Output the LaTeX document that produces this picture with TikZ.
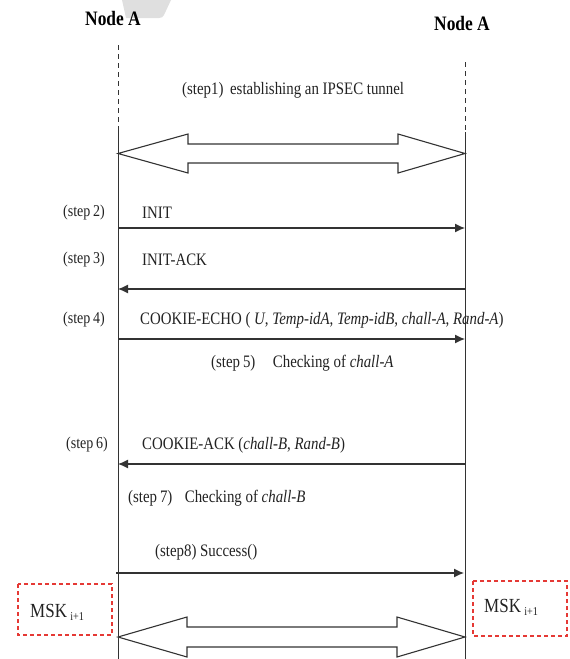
\documentclass[tikz,border=0pt]{standalone}
\usepackage{fontspec}
\setmainfont{Liberation Serif}[FakeStretch=0.85]
\usetikzlibrary{arrows.meta}
\definecolor{ln}{HTML}{333333}
\definecolor{tx}{HTML}{222222}
\definecolor{rd}{HTML}{E53935}
\begin{document}
\begin{tikzpicture}[x=1pt,y=-1pt,
  lifeline/.style={draw=ln,line width=1pt},
  dashline/.style={draw=ln,line width=1pt,dash pattern=on 5pt off 4pt},
  msg/.style={draw=ln,line width=1.2pt,-{Latex[length=10pt,width=9pt]}},
  fat/.style={draw=ln,line width=1.1pt,fill=white,line join=miter},
  lbl/.style={font=\fontsize{17.5}{19}\selectfont,text=tx,inner sep=0pt,anchor=west},
  stp/.style={font=\fontsize{16.5}{18}\selectfont,text=tx,inner sep=0pt,anchor=west},
  hdr/.style={font=\fontsize{20.5}{22}\selectfont\bfseries,text=black,inner sep=0pt},
  mskbox/.style={draw=rd,line width=1.1pt,dash pattern=on 4pt off 3pt},
  msk/.style={font=\fontsize{20}{22}\selectfont,text=tx,inner sep=0pt}]
\useasboundingbox (0,0) rectangle (570,659);
% faint gray shape at top
\fill[gray!25] (122,0) -- (171,0) -- (164,15) to[out=-110,in=0] (159,18) -- (126,18) -- cycle;
% headers
\node[hdr] (hA) at (113,18) {Node A};
\node[hdr] (hB) at (462,23) {Node A};
% lifelines
\coordinate (Lt) at (118,45);
\coordinate (Ld) at (118,128);
\coordinate (Lb) at (118,659);
\coordinate (Rt) at (465,62);
\coordinate (Rd) at (465,132);
\coordinate (Rb) at (465,659);
\draw[dashline] (Lt) -- (Ld);
\draw[lifeline] (Ld) -- (Lb);
\draw[dashline] (Rt) -- (Rd);
\draw[lifeline] (Rd) -- (Rb);
% step 1 double arrow
\node[lbl] (s1) at (182,90) {(step1)\, establishing an IPSEC tunnel};
\coordinate (T1l) at (118,153.5);
\coordinate (T1r) at (465,153.5);
\draw[fat] (T1l) -- (188,134) -- (188,144) -- (398,144) -- (398,134) -- (T1r)
  -- (398,173) -- (398,163) -- (188,163) -- (188,173) -- cycle;
% step 2
\node[stp] (st2) at (63,213) {(step\,2)};
\node[lbl] (m2) at (142,213) {INIT};
\coordinate (L2) at (118,228);
\coordinate (R2) at (465,228);
\draw[msg] (L2) -- (R2);
% step 3
\node[stp] (st3) at (63,260) {(step\,3)};
\node[lbl] (m3) at (142,260) {INIT-ACK};
\coordinate (L3) at (118,289);
\coordinate (R3) at (465,289);
\draw[msg] (R3) -- (L3);
% step 4
\node[stp] (st4) at (63,320) {(step\,4)};
\node[lbl] (m4) at (140,320) {COOKIE-ECHO ( \textit{U}, \textit{Temp-idA}, \textit{Temp-idB}, \textit{chall-A}, \textit{Rand-A})};
\coordinate (L4) at (118,339);
\coordinate (R4) at (465,339);
\draw[msg] (L4) -- (R4);
% step 5
\node[lbl] (s5) at (211,363) {(step\,5)\quad Checking of \textit{chall-A}};
% step 6
\node[stp] (st6) at (66,445) {(step\,6)};
\node[lbl] (m6) at (142,445) {COOKIE-ACK (\textit{chall-B}, \textit{Rand-B})};
\coordinate (L6) at (118,464);
\coordinate (R6) at (465,464);
\draw[msg] (R6) -- (L6);
% step 7
\node[lbl] (s7) at (128,498) {(step\,7)\enspace\ Checking of \textit{chall-B}};
% step 8
\node[lbl] (m8) at (155,552) {(step8) Success()};
\coordinate (L8) at (116,573);
\coordinate (R8) at (464,573);
\draw[msg] (L8) -- (R8);
% MSK boxes
\draw[mskbox] (18,584) rectangle (112,635);
\node[msk,anchor=base west] (mskL) at (30,617) {MSK\,{\fontsize{12}{13}\selectfont\raisebox{-3pt}{i+1}}};
\draw[mskbox] (473,581) rectangle (567,636);
\node[msk,anchor=base west] (mskR) at (484,612) {MSK\,{\fontsize{12}{13}\selectfont\raisebox{-3pt}{i+1}}};
% bottom double arrow
\coordinate (T2l) at (118,637);
\coordinate (T2r) at (465,637);
\draw[fat] (T2l) -- (187,617) -- (187,627) -- (397,627) -- (397,617) -- (T2r)
  -- (397,657) -- (397,647) -- (187,647) -- (187,657) -- cycle;
\end{tikzpicture}
\end{document}
